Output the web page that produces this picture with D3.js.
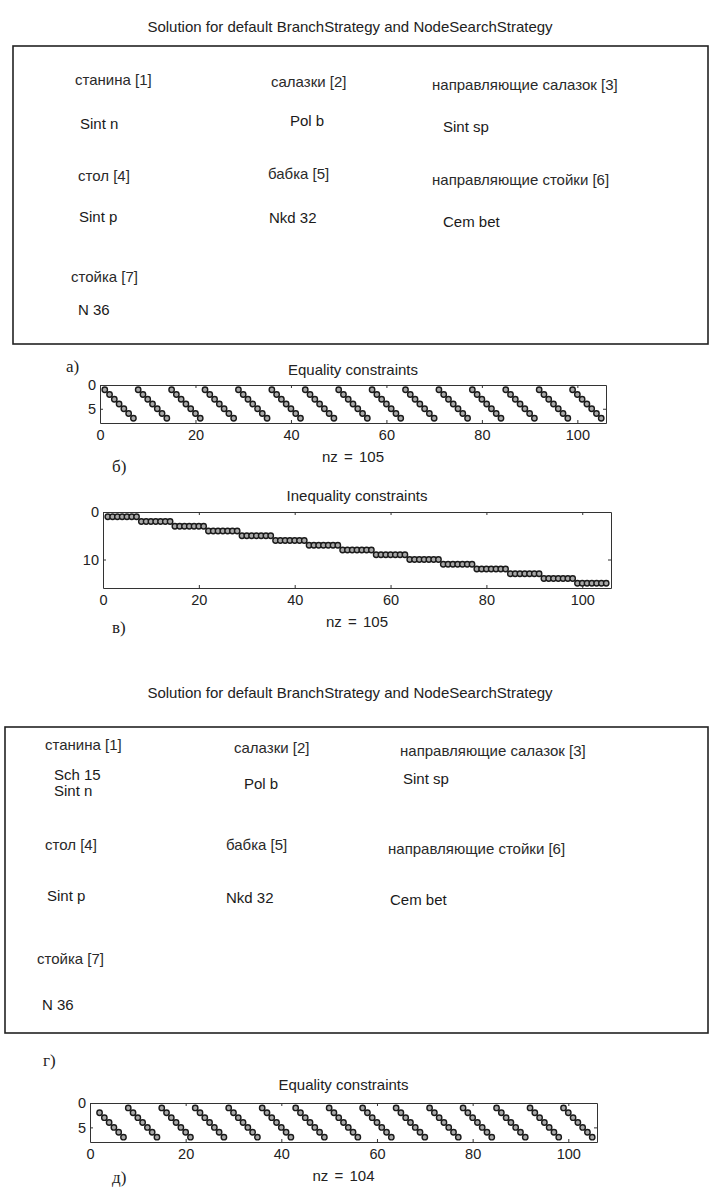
<!DOCTYPE html>
<html>
<head>
<meta charset="utf-8">
<script src="https://cdn.jsdelivr.net/npm/d3@7"></script>
<style>
  body { margin: 0; background: #fff; }
  svg { font-family: "Liberation Sans", Arial, sans-serif; }
  .title { font-size: 15px; fill: #222; text-anchor: middle; }
  .nz { font-size: 15px; fill: #222; text-anchor: middle; word-spacing: 2px; }
  .part { font-size: 15px; fill: #2a2a2a; }
  .sol { font-size: 15px; fill: #1a1a1a; }
  .plab { font-size: 17px; fill: #222; font-family: "Liberation Serif", "DejaVu Serif", serif; }
  .axis text { font-size: 14.5px; fill: #222; font-family: "Liberation Sans", Arial, sans-serif; }
  .axis path, .axis line { stroke: #333; }
</style>
</head>
<body>
<div class="chart-div"></div>
<script>
// part names and chosen solutions
const partNames = ["станина [1]", "салазки [2]", "направляющие салазок [3]",
  "стол [4]", "бабка [5]", "направляющие стойки [6]", "стойка [7]"];
const solutionA = [["Sint n"], ["Pol b"], ["Sint sp"], ["Sint p"], ["Nkd 32"], ["Cem bet"], ["N 36"]];
const solutionB = [["Sch 15", "Sint n"], ["Pol b"], ["Sint sp"], ["Sint p"], ["Nkd 32"], ["Cem bet"], ["N 36"]];

const panelLabels = ["а)", "б)", "в)", "г)", "д)"];
const figTitle = "Solution for default BranchStrategy and NodeSearchStrategy";

// spy patterns: row of the nonzero in each column (column = index + 1)
const eqRowsA = [
  1, 2, 3, 4, 5, 6, 7, 1, 2, 3, 4, 5, 6, 7, 1, 2, 3, 4, 5, 6, 7,
  1, 2, 3, 4, 5, 6, 7, 1, 2, 3, 4, 5, 6, 7, 1, 2, 3, 4, 5, 6, 7,
  1, 2, 3, 4, 5, 6, 7, 1, 2, 3, 4, 5, 6, 7, 1, 2, 3, 4, 5, 6, 7,
  1, 2, 3, 4, 5, 6, 7, 1, 2, 3, 4, 5, 6, 7, 1, 2, 3, 4, 5, 6, 7,
  1, 2, 3, 4, 5, 6, 7, 1, 2, 3, 4, 5, 6, 7, 1, 2, 3, 4, 5, 6, 7];
const ineqRowsA = [
  1, 1, 1, 1, 1, 1, 1, 2, 2, 2, 2, 2, 2, 2, 3, 3, 3, 3, 3, 3, 3,
  4, 4, 4, 4, 4, 4, 4, 5, 5, 5, 5, 5, 5, 5, 6, 6, 6, 6, 6, 6, 6,
  7, 7, 7, 7, 7, 7, 7, 8, 8, 8, 8, 8, 8, 8, 9, 9, 9, 9, 9, 9, 9,
  10, 10, 10, 10, 10, 10, 10, 11, 11, 11, 11, 11, 11, 11, 12, 12, 12, 12, 12, 12, 12,
  13, 13, 13, 13, 13, 13, 13, 14, 14, 14, 14, 14, 14, 14, 15, 15, 15, 15, 15, 15, 15];
const eqRowsB = [
  null, 2, 3, 4, 5, 6, 7, 1, 2, 3, 4, 5, 6, 7, 1, 2, 3, 4, 5, 6, 7,
  1, 2, 3, 4, 5, 6, 7, 1, 2, 3, 4, 5, 6, 7, 1, 2, 3, 4, 5, 6, 7,
  1, 2, 3, 4, 5, 6, 7, 1, 2, 3, 4, 5, 6, 7, 1, 2, 3, 4, 5, 6, 7,
  1, 2, 3, 4, 5, 6, 7, 1, 2, 3, 4, 5, 6, 7, 1, 2, 3, 4, 5, 6, 7,
  1, 2, 3, 4, 5, 6, 7, 1, 2, 3, 4, 5, 6, 7, 1, 2, 3, 4, 5, 6, 7];

const xTicks = [0, 20, 40, 60, 80, 100];
const eqYTicks = [0, 5];
const ineqYTicks = [0, 10];

let width = 710, height = 1187;
let svg = d3.select(".chart-div").append("svg")
  .attr("width", width)
  .attr("height", height);

// solution box: text placement (left x, middle y) for each part and its solution
function solutionBlock(top, box, partPos, solPos, sol) {
  svg.append("text").attr("class", "title")
    .attr("x", 350).attr("y", top).attr("dy", "0.35em")
    .text(figTitle);

  svg.append("rect")
    .attr("x", box[0]).attr("y", box[1])
    .attr("width", box[2] - box[0]).attr("height", box[3] - box[1])
    .attr("fill", "none").attr("stroke", "#222").attr("stroke-width", 1.6);

  svg.selectAll(null).data(partNames).enter().append("text")
    .attr("class", "part")
    .attr("x", (d, i) => partPos[i][0])
    .attr("y", (d, i) => partPos[i][1])
    .attr("dy", "0.35em")
    .text(d => d);

  sol.forEach((lines, i) => {
    let t = svg.append("text").attr("class", "sol")
      .attr("x", solPos[i][0]).attr("y", solPos[i][1]);
    lines.forEach((s, j) => {
      t.append("tspan").attr("x", solPos[i][0])
        .attr("dy", j == 0 ? (0.35 - (lines.length - 1) * 0.52) + "em" : "1.04em")
        .text(s);
    });
  });
}

// one spy plot
function spy(rows, nRows, yTicks, xr, yr, title, titleY) {
  let x = d3.scaleLinear().domain([0, 106]).range(xr);
  let y = d3.scaleLinear().domain([0, nRows + 1]).range(yr);
  let g = svg.append("g");

  g.append("text").attr("class", "title")
    .attr("x", (xr[0] + xr[1]) / 2).attr("y", titleY).attr("dy", "0.35em")
    .text(title);

  g.append("g").attr("class", "axis")
    .attr("transform", `translate(0,${yr[1]})`)
    .call(d3.axisBottom(x).tickValues(xTicks).tickSize(-3).tickSizeOuter(0).tickPadding(7));
  g.append("g").attr("class", "axis")
    .attr("transform", `translate(0,${yr[0]})`)
    .call(d3.axisTop(x).tickValues(xTicks).tickSize(-3).tickSizeOuter(0).tickFormat(""));
  g.append("g").attr("class", "axis")
    .attr("transform", `translate(${xr[0]},0)`)
    .call(d3.axisLeft(y).tickValues(yTicks).tickSize(-3).tickSizeOuter(0).tickPadding(4));
  g.append("g").attr("class", "axis")
    .attr("transform", `translate(${xr[1]},0)`)
    .call(d3.axisRight(y).tickValues(yTicks).tickSize(-3).tickSizeOuter(0).tickFormat(""));

  let pts = rows.map((r, i) => ({ col: i + 1, row: r })).filter(d => d.row != null);
  g.selectAll("circle").data(pts).enter().append("circle")
    .attr("cx", d => x(d.col))
    .attr("cy", d => y(d.row))
    .attr("r", 2.7)
    .attr("fill", "#a8a8a8")
    .attr("stroke", "#1a1a1a")
    .attr("stroke-width", 1.4);

  g.append("text").attr("class", "nz")
    .attr("x", (xr[0] + xr[1]) / 2).attr("y", yr[1] + 34).attr("dy", "0.35em")
    .text("nz = " + pts.length);
}

function panelLabel(i, px, py) {
  svg.append("text").attr("class", "plab")
    .attr("x", px).attr("y", py).attr("dy", "0.35em")
    .text(panelLabels[i]);
}

// first solution
solutionBlock(27, [13, 46, 708, 344],
  [[75, 80], [271, 82], [432, 85], [78, 176], [268, 174], [432, 180], [71, 277]],
  [[80, 124], [290, 121], [443, 127], [79, 217], [269, 218], [443, 222], [78, 310]],
  solutionA);
panelLabel(0, 66, 366);
spy(eqRowsA, 7, eqYTicks, [100, 606], [385, 423], "Equality constraints", 370);
panelLabel(1, 112, 466);
spy(ineqRowsA, 15, ineqYTicks, [103, 611], [512, 588], "Inequality constraints", 496);
panelLabel(2, 112, 627);

// second solution
solutionBlock(693, [5, 727, 708, 1033],
  [[45, 745], [234, 748], [400, 751], [45, 845], [226, 845], [388, 849], [37, 959]],
  [[54, 783], [244, 784], [403, 779], [47, 896], [226, 898], [390, 900], [42, 1005]],
  solutionB);
panelLabel(3, 43, 1060);
spy(eqRowsB, 7, eqYTicks, [90, 597], [1103, 1142], "Equality constraints", 1085);
panelLabel(4, 112, 1177);
</script>
</body>
</html>
